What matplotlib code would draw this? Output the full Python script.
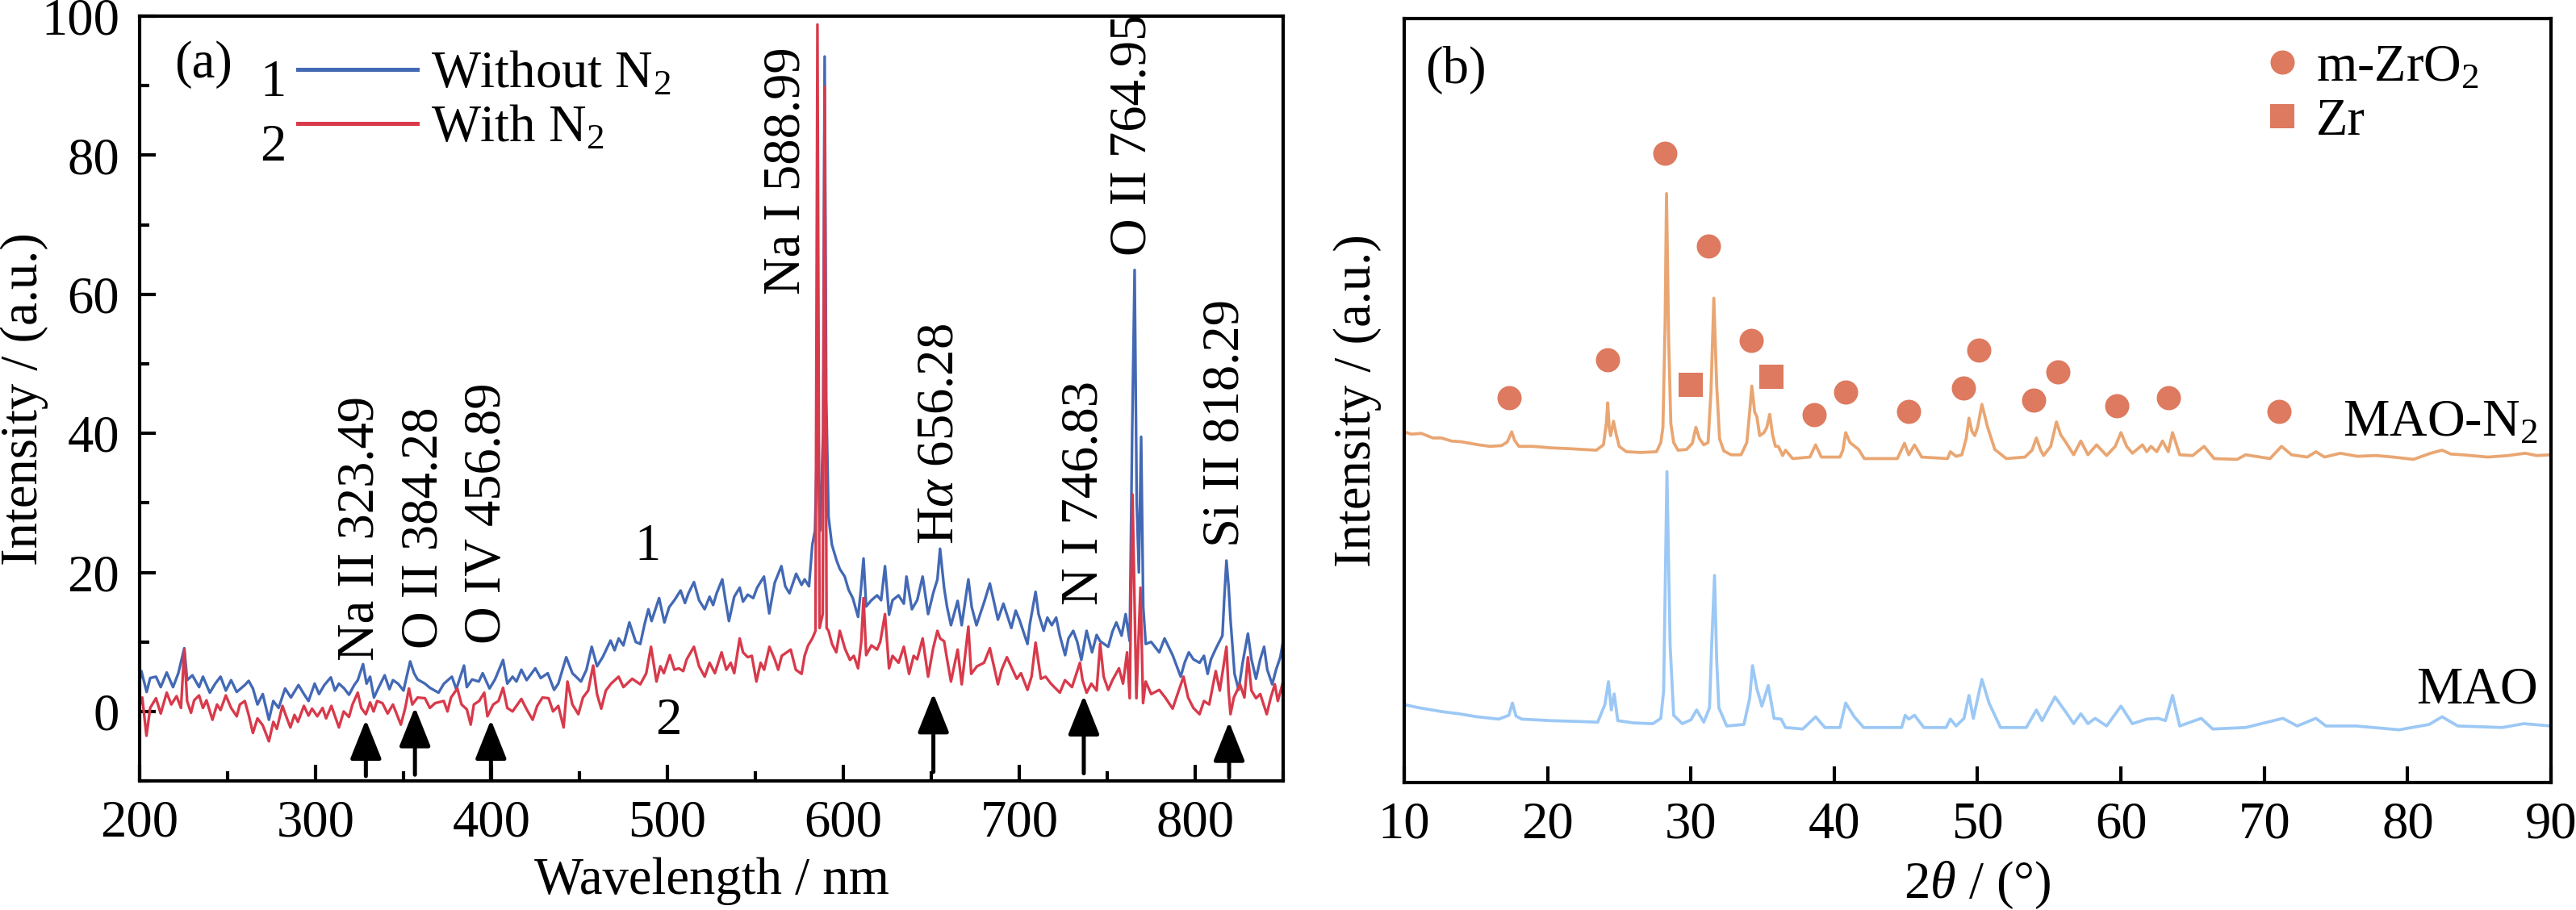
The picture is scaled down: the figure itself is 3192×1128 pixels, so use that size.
import matplotlib
matplotlib.use("Agg")
import matplotlib.pyplot as plt
from matplotlib.lines import Line2D
from matplotlib.ticker import MultipleLocator, NullLocator

plt.rcParams["font.family"] = ["Liberation Serif", "DejaVu Serif"]
plt.rcParams["mathtext.fontset"] = "custom"
plt.rcParams["mathtext.rm"] = "Liberation Serif"
plt.rcParams["mathtext.it"] = "Liberation Serif:italic"
plt.rcParams["font.size"] = 15.5

# %%
## (a) emission spectra
wl_1 = [200, 201, 204, 206, 209.3, 212, 215.4, 219, 222, 225.4, 227, 230, 233.8, 236, 239.9, 243, 246, 249,
        252, 255.2, 259.8, 262, 264.4, 267, 270, 273.5, 276, 279, 282.7, 286, 290.3, 293.4, 296, 299.5, 302,
        305, 308.7, 311, 313.3, 316.3, 319, 322, 324, 327, 329, 331, 333.2, 336, 339.3, 342, 344, 346.9, 350,
        353.8, 356, 358, 362.2, 365, 369.9, 373, 377.5, 380, 384.4, 386, 389, 392.8, 395, 398.9, 402, 406.6,
        409, 412, 414.2, 417, 420, 424.9, 428, 432, 435.6, 438, 442.5, 446, 450.9, 454, 457, 460, 463.2,
        467.7, 470, 472.3, 475, 478.4, 482, 484.6, 487, 489.2, 491, 495.3, 498.3, 501, 504, 507.5, 510, 512,
        515.1, 518, 521.2, 524, 526, 528, 531.2, 533, 535, 538, 541.1, 543, 545.7, 548.8, 551, 554.9, 557.9,
        561, 564.8, 567, 569.4, 573.2, 576.3, 578, 580.5, 582.4, 583.9, 585.2, 586.8, 588.5, 589.4, 590.3,
        591.6, 593.5, 596.2, 598, 600.8, 603, 605.4, 608.4, 610, 611.5, 613, 616, 619.2, 621.5, 623.7, 626,
        628, 631.4, 634.4, 635.9, 639, 642, 645.1, 648.2, 651.2, 653.5, 655, 657.3, 659, 661.2, 665, 667.3,
        671.1, 673, 675.7, 680.3, 683.3, 687.9, 691, 695.5, 698, 700.1, 704.7, 706, 709.3, 711, 713.9, 716,
        718.5, 721, 723.1, 726.1, 728, 730.7, 733, 735.3, 738.3, 741.4, 744, 746, 750.6, 753, 755.2, 758.2,
        760.5, 762.8, 764.2, 765.6, 766.8, 768, 769.3, 770.5, 771.9, 775, 779.6, 782.6, 787.2, 791.8, 794,
        796.4, 799, 802.5, 805, 807.1, 809, 811.7, 815.5, 816.5, 817.8, 819, 820.1, 822.4, 824.7, 827, 830,
        832, 834.6, 837, 839.2, 841, 843.8, 846, 848.4, 850]
int_1 = [4.3, 5.8, 2.8, 4.8, 5.0, 3.5, 5.6, 3.5, 5.5, 9.1, 4.5, 5.2, 3.5, 5.0, 2.7, 4.0, 5.0, 3.0,
         4.5, 2.8, 3.8, 4.4, 3.3, 1.0, 2.5, -1.2, 1.5, 0.5, 3.3, 2.0, 3.8, 2.5, 1.5, 4.0, 2.5,
         3.8, 4.9, 3.0, 4.0, 3.3, 2.4, 3.8, 4.5, 6.8, 4.0, 5.0, 2.0, 3.5, 5.2, 3.2, 4.5, 4.0, 3.0,
         7.2, 5.5, 4.6, 4.0, 3.4, 2.7, 4.0, 5.0, 3.2, 6.6, 3.5, 4.6, 4.3, 5.5, 3.3, 4.6, 7.4,
         4.0, 5.0, 4.3, 6.0, 4.5, 6.2, 4.8, 5.5, 3.1, 4.0, 7.8, 5.5, 4.3, 6.0, 9.3, 6.5, 7.8,
         10.2, 8.8, 10.5, 9.5, 12.8, 10.0, 9.7, 12.5, 14.7, 13.0, 16.3, 12.8, 15.0, 16.0, 17.4, 15.6, 17.0,
         18.6, 16.0, 14.7, 16.5, 15.3, 17.0, 19.0, 16.0, 13.0, 16.5, 17.8, 15.8, 16.8, 16.3, 17.8, 19.4, 14.1,
         18.5, 20.9, 18.0, 17.0, 19.8, 18.2, 19.0, 18.0, 24.0, 26.0, 40.0, 26.0, 40.0, 94.2, 45.0,
         28.0, 24.0, 21.7, 20.5, 19.4, 17.5, 16.3, 13.6, 17.5, 22.0, 15.1, 16.0, 16.7, 16.0, 20.9, 13.9,
         16.0, 16.7, 15.5, 19.4, 14.7, 16.0, 19.4, 14.0, 17.1, 19.0, 23.4, 17.8, 15.0, 12.4, 15.9, 12.4,
         19.0, 15.0, 12.4, 15.9, 18.4, 13.2, 15.5, 12.0, 14.5, 13.2, 9.7, 12.5, 17.2, 14.0, 11.6, 13.5,
         12.4, 13.5, 10.9, 8.1, 10.5, 11.6, 10.0, 7.4, 11.6, 8.5, 11.0, 10.1, 9.3, 11.5, 12.8, 10.9,
         14.0, 10.1, 40.0, 63.5, 30.0, 20.0, 39.5, 15.0, 9.7, 10.0, 8.5, 10.5, 8.1, 5.0, 7.0,
         8.5, 7.5, 7.0, 8.0, 5.4, 7.5, 9.0, 10.9, 16.0, 21.7, 18.0, 13.2, 5.4, 3.1, 7.0, 11.2,
         7.5, 4.7, 7.5, 9.3, 6.0, 3.9, 6.0, 7.8, 10.1]

wl_2 = [200, 201.5, 203.9, 206, 209.3, 212, 215.4, 218, 221, 223.5, 225.4, 227, 229.2, 231, 233.8, 236, 238,
        241.4, 244, 246, 249, 252, 255.2, 257, 259.8, 262, 264.4, 267, 270, 273.5, 276, 278, 281.2, 283,
        285.7, 288, 290, 293.4, 296, 298, 301, 304, 306, 309, 313.3, 316, 319, 321, 324, 326, 328.6, 331,
        333, 335, 338, 341, 344, 348.5, 351, 353.1, 355, 358, 362.2, 365, 368, 372.9, 375, 377, 380.6, 383,
        386, 388.2, 390, 393, 395.9, 397.7, 401, 404, 406.6, 409, 412, 414.2, 417, 420, 423.4, 426, 429,
        432.5, 435, 438, 441, 443.2, 446, 449.4, 452, 455, 457.8, 460, 462.4, 465, 468, 472.3, 475, 480,
        484.6, 488, 490.7, 493.8, 496, 498, 501.4, 504, 506.5, 509, 511, 515.1, 518, 521.2, 524, 527, 530.8,
        533.5, 536, 538, 541.1, 543, 545.7, 548, 550.6, 553, 555, 558, 561, 563, 565, 570.1, 573, 576.3,
        578, 580, 582.4, 584.2, 585.3, 586.5, 588.3, 589.4, 590.5, 591.6, 593.6, 596, 598, 601, 603.8, 606,
        608.4, 610.2, 611.5, 613, 616, 619.2, 621, 623.7, 626, 628, 631.4, 634.4, 637.4, 640, 642, 645.1,
        648.2, 651, 653.5, 655, 657.3, 659, 661.2, 665, 667.3, 669, 671.1, 672.7, 676, 680, 683.3, 687.9,
        690, 693, 698.6, 701, 704.7, 707, 709.3, 712.3, 715, 718, 723.1, 726, 730, 734.5, 736, 738.3, 741,
        744, 746, 748, 750.6, 753, 756.7, 759, 761.3, 762.8, 764.4, 766.6, 768.9, 770.4, 771.9, 775, 779.6,
        783, 787.2, 790, 793.4, 796, 799, 802.5, 805, 808, 811.7, 814, 817.8, 819, 820.1, 822, 825.5, 828,
        830, 832, 834.6, 837, 840.7, 843, 845.3, 847, 850]
int_2 = [0.8, 2.0, -3.5, 0.5, 1.9, -0.3, 2.7, 1.0, 2.2, 0.5, 8.9, 1.5, -0.2, 1.6, 2.3, 0.5, 1.6,
         -1.2, 1.0, 0.2, 2.3, 0.5, -0.7, 1.0, 1.5, -0.5, -3.1, -1.0, -2.0, -4.3, -1.5, -2.5, 0.8, -0.5,
         -2.3, -0.5, -1.5, 0.8, -0.6, 0.4, -0.7, 0.5, -1.0, 0.8, -2.3, 0.0, -0.8, 1.0, 2.7, 0.5, -0.4, 1.3,
         0.0, 1.5, 1.2, -0.3, 1.0, -1.9, 0.5, 3.3, 1.0, 2.0, 1.9, 0.5, 1.2, 1.5, 0.0, 2.0, 3.3, 1.0,
         0.3, -1.9, 1.0, 1.5, 2.7, -0.7, 1.0, 1.5, 3.4, 0.5, 0.0, 0.8, 1.8, 0.3, -1.2, 0.8, 2.0,
         1.9, 0.0, 0.8, -2.3, 4.3, 1.0, -0.4, 2.0, 3.0, 6.6, 2.5, 0.4, 3.0, 4.0, 5.0, 3.5, 4.7,
         3.9, 5.5, 9.3, 4.3, 6.5, 5.5, 8.1, 6.0, 6.2, 5.8, 7.5, 9.3, 6.5, 5.0, 7.0, 5.5, 8.5,
         6.0, 7.0, 5.5, 10.5, 8.5, 7.8, 8.0, 4.3, 7.0, 6.0, 9.3, 7.5, 6.0, 8.0, 8.9, 6.0, 5.4,
         8.0, 9.5, 10.5, 11.6, 98.8, 12.0, 14.0, 89.8, 12.0, 11.6, 9.7, 8.5, 11.6, 9.0, 7.4, 8.0,
         6.2, 10.0, 16.3, 8.1, 9.5, 8.9, 10.0, 14.0, 6.2, 8.0, 7.0, 9.3, 5.4, 8.0, 7.5, 10.5,
         5.0, 9.0, 11.6, 10.5, 10.1, 7.5, 4.3, 8.9, 3.9, 7.5, 12.2, 5.4, 6.5, 7.0, 9.1, 3.9,
         6.0, 7.8, 4.7, 5.5, 3.1, 5.0, 9.9, 4.7, 5.0, 4.0, 2.7, 4.5, 3.5, 7.0, 4.5, 2.7, 4.0,
         3.0, 9.7, 5.0, 3.1, 4.5, 6.2, 4.0, 8.5, 1.9, 31.2, 1.9, 17.8, 1.2, 4.3, 2.5, 3.1,
         2.0, 0.4, 2.5, 5.0, 2.0, 0.5, -0.4, 1.5, 1.0, 5.8, 3.0, 9.3, 3.0, -0.4, 2.0, 3.9, 2.0,
         7.8, 3.0, 1.9, 2.5, -0.4, 2.0, 3.9, 1.5, 4.3]

line_labels = ["Na II 323.49", "O II 384.28", "O IV 456.89", "Na I 588.99",
               r"H$\alpha$ 656.28", "N I 746.83", "O II 764.95", "Si II 818.29"]
line_label_x = [325.7, 362, 397.8, 568, 655, 737, 764.7, 817.5]
line_label_y = [7.3, 9.0, 9.7, 60, 24, 15.3, 65.5, 23.7]

arrow_x = [328.6, 356.5, 399.7, 651.2, 736.7, 819.3]
arrow_tip = [-1.2, 0.6, -1.2, 2.6, 2.3, -1.5]
arrow_base = [-9.3, -9.1, -9.7, -8.7, -8.9, -9.5]

# %%
## (b) XRD patterns
theta_n2 = [10.0, 10.5, 11.2, 12.0, 12.6, 13.3, 14.0, 15.2, 16.0, 16.8, 17.2, 17.5, 17.7, 18.0, 19.0, 20.3,
            21.5, 22.5, 23.4, 23.9, 24.1, 24.2, 24.3, 24.4, 24.6, 24.8, 25.0, 25.5, 26.5, 27.6, 27.9, 28.05,
            28.2, 28.3, 28.45, 28.6, 28.8, 29.1, 29.7, 30.1, 30.35, 30.6, 30.9, 31.2, 31.4, 31.6, 31.8, 32.0,
            32.3, 32.8, 33.5, 33.9, 34.1, 34.25, 34.45, 34.6, 34.8, 35.1, 35.3, 35.5, 35.7, 35.9, 36.1, 36.4,
            36.6, 37.1, 38.3, 38.7, 39.1, 40.4, 40.6, 40.8, 41.1, 41.3, 41.7, 42.1, 44.4, 44.9, 45.2, 45.6,
            46.1, 47.9, 48.1, 48.5, 48.9, 49.2, 49.4, 49.6, 49.8, 50.0, 50.3, 50.7, 51.2, 52.0, 53.3, 53.8,
            54.1, 54.4, 54.6, 55.1, 55.5, 55.8, 56.1, 56.7, 57.2, 57.7, 58.3, 59.0, 59.6, 60.0, 60.4, 60.8,
            61.5, 61.8, 62.1, 62.5, 62.9, 63.3, 63.6, 64.1, 65.0, 65.8, 66.5, 68.1, 68.7, 70.4, 71.2, 71.9,
            73.0, 73.6, 74.2, 75.3, 76.5, 77.8, 79.0, 80.4, 81.6, 82.4, 83.0, 83.8, 85.6, 87.0, 88.2, 89.0,
            90.0]
xrd_n2 = [45.9, 45.6, 45.7, 45.1, 45.1, 44.7, 44.6, 44.2, 44.0, 44.1, 44.6, 45.9, 44.8, 44.0, 44.0, 43.8,
          43.7, 43.6, 43.5, 44.2, 47.0, 49.7, 46.5, 45.4, 47.3, 45.5, 44.0, 43.3, 43.2, 43.3, 44.5, 46.5,
          60.0, 77.1, 58.0, 47.0, 44.5, 43.5, 43.6, 44.4, 46.5, 45.0, 44.2, 44.5, 51.1, 63.4, 52.0, 45.0,
          43.4, 42.9, 42.9, 44.5, 48.5, 51.9, 48.5, 47.9, 45.4, 45.8, 46.5, 48.2, 45.5, 44.0, 44.0, 42.8,
          43.5, 42.4, 42.6, 44.2, 42.6, 42.6, 43.5, 45.8, 44.5, 44.2, 43.6, 42.4, 42.4, 44.4, 42.9, 44.2,
          42.6, 42.4, 43.3, 42.7, 42.9, 45.0, 47.7, 46.0, 45.4, 46.5, 49.5, 46.5, 43.6, 42.4, 42.6, 43.5,
          45.1, 43.5, 42.8, 44.0, 47.2, 45.5, 44.7, 42.9, 44.7, 42.9, 44.2, 42.8, 44.0, 45.8, 44.0, 43.1,
          44.2, 43.3, 44.0, 43.3, 44.7, 43.3, 45.8, 42.9, 42.8, 44.0, 42.4, 42.3, 42.9, 42.4, 44.0, 42.9,
          42.6, 43.3, 42.6, 43.1, 42.7, 42.8, 42.6, 42.3, 43.1, 43.5, 43.0, 42.9, 42.6, 42.8, 43.1, 42.8,
          42.9]

theta_mao = [10.0, 11.0, 12.55, 13.8, 15.1, 16.6, 17.3, 17.55, 17.8, 18.2, 20.2, 22.0, 23.5, 24.0, 24.25,
             24.45, 24.65, 24.9, 26.0, 27.35, 27.9, 28.1, 28.33, 28.55, 28.8, 29.4, 30.0, 30.4, 30.9, 31.3,
             31.45, 31.65, 31.8, 31.95, 32.5, 33.7, 34.1, 34.3, 34.6, 34.95, 35.4, 35.8, 36.3, 36.6, 37.8,
             38.7, 39.35, 40.4, 40.8, 41.4, 42.05, 44.7, 44.95, 45.2, 45.6, 46.25, 47.8, 48.1, 48.5, 49.05,
             49.4, 49.7, 50.3, 50.8, 51.6, 53.4, 54.1, 54.5, 55.4, 56.2, 56.7, 57.2, 57.7, 58.2, 59.0, 60.0,
             60.8, 61.8, 62.6, 63.1, 63.6, 64.1, 65.6, 66.4, 68.7, 71.3, 72.3, 73.6, 74.3, 76.4, 79.4, 81.5,
             82.4, 83.5, 86.6, 88.1, 90.0]
xrd_mao = [10.2, 9.8, 9.3, 9.0, 8.6, 8.3, 8.8, 10.4, 8.7, 8.3, 8.1, 8.0, 7.9, 10.2, 13.2,
           9.5, 11.6, 8.1, 7.8, 7.7, 8.4, 12.0, 40.7, 18.0, 8.8, 7.7, 8.2, 9.5, 7.9, 9.8,
           18.0, 27.1, 16.0, 9.8, 7.4, 7.6, 11.0, 15.3, 12.3, 10.0, 12.7, 8.4, 8.3, 7.2, 7.0,
           8.6, 7.2, 7.2, 10.4, 8.6, 7.2, 7.2, 8.8, 8.3, 8.8, 7.2, 7.2, 8.3, 7.4, 8.4,
           11.4, 8.4, 13.5, 10.4, 7.2, 7.2, 9.5, 8.1, 11.2, 9.1, 7.7, 9.0, 7.7, 8.4, 7.4, 10.0,
           7.7, 8.3, 8.4, 8.1, 11.4, 7.4, 8.4, 7.0, 7.2, 8.4, 7.4, 8.4, 7.4, 7.4, 6.9, 7.6,
           8.6, 7.4, 7.2, 7.7, 7.4]

zro2_theta = [17.3, 24.2, 28.2, 31.2, 34.2, 38.6, 40.8, 45.2, 49.0, 50.1, 53.9, 55.6, 59.7, 63.3, 71.0]
zro2_y = [50.4, 55.3, 82.4, 70.2, 57.9, 48.2, 51.1, 48.6, 51.6, 56.6, 50.0, 53.8, 49.3, 50.4, 48.6]
zr_theta = [30.0, 35.6]
zr_y = [52.1, 53.1]

C_BLUE = "#4369B5"
C_RED = "#D83A4B"
C_ORANGE = "#E9A672"
C_LIGHTBLUE = "#9CC8F5"
C_MARK = "#DD7A5F"

# %%
fig = plt.figure(figsize=(10.64, 3.76), dpi=300)
ax1 = fig.add_axes([0.0542, 0.1418, 0.4439, 0.8404])
ax2 = fig.add_axes([0.5451, 0.1401, 0.4452, 0.8395])

for ax in (ax1, ax2):
    for sp in ax.spines.values():
        sp.set_linewidth(1.0)
    ax.tick_params(which="both", direction="in", width=1.0, top=False, right=False)
    ax.tick_params(which="major", length=4.8)
    ax.tick_params(which="minor", length=2.8)
    ax.tick_params(axis="x", pad=5.5)
    ax.tick_params(axis="y", pad=6.0)

## Panel (a)
ax1.plot(wl_1, int_1, color=C_BLUE, lw=0.8, label="Without N$_2$")
ax1.plot(wl_2, int_2, color=C_RED, lw=0.8, label="With N$_2$")
ax1.set_xlim(200, 850)
ax1.set_ylim(-10, 100)
ax1.xaxis.set_major_locator(MultipleLocator(100))
ax1.xaxis.set_minor_locator(MultipleLocator(50))
ax1.yaxis.set_major_locator(MultipleLocator(20))
ax1.yaxis.set_minor_locator(MultipleLocator(10))
ax1.set_xlabel("Wavelength / nm")
ax1.set_ylabel("Intensity / (a.u.)")
ax1.xaxis.set_label_coords(0.5, -0.10)
ax1.yaxis.set_label_coords(-0.080, 0.5)

for lab, x, y in zip(line_labels, line_label_x, line_label_y):
    ax1.text(x, y, lab, rotation=90, ha="center", va="bottom")
for x, tip, base in zip(arrow_x, arrow_tip, arrow_base):
    ax1.annotate("", xy=(x, tip), xytext=(x, base),
                 arrowprops=dict(arrowstyle="-|>,head_length=0.5,head_width=0.2",
                                 color="black", lw=1.2, mutation_scale=20,
                                 shrinkA=0, shrinkB=0))
ax1.text(489, 23.6, "1", ha="center", va="center")
ax1.text(500.5, -1.4, "2", ha="center", va="center")
ax1.text(0.056, 0.937, "(a)", transform=ax1.transAxes, ha="center", va="center")

leg = ax1.legend(loc="upper left", bbox_to_anchor=(0.138, 0.955), frameon=False,
                 handlelength=2.3, handletextpad=0.26, labelspacing=0.12,
                 borderpad=0, borderaxespad=0)
for h in leg.get_lines():
    h.set_linewidth(1.2)
ax1.text(0.117, 0.912, "1", transform=ax1.transAxes, ha="center", va="center")
ax1.text(0.117, 0.828, "2", transform=ax1.transAxes, ha="center", va="center")

## Panel (b)
ax2.plot(theta_n2, xrd_n2, color=C_ORANGE, lw=0.9)
ax2.plot(theta_mao, xrd_mao, color=C_LIGHTBLUE, lw=0.9)
ax2.plot(zro2_theta, zro2_y, "o", color=C_MARK, ms=7.2, mew=0, ls="none")
ax2.plot(zr_theta, zr_y, "s", color=C_MARK, ms=7.4, mew=0, ls="none")
ax2.set_xlim(10, 90)
ax2.set_ylim(0, 100)
ax2.xaxis.set_major_locator(MultipleLocator(10))
ax2.yaxis.set_major_locator(NullLocator())
ax2.set_xlabel(r"2$\theta$ / (°)")
ax2.set_ylabel("Intensity / (a.u.)")
ax2.xaxis.set_label_coords(0.5, -0.10)
ax2.yaxis.set_label_coords(-0.02, 0.5)
ax2.text(89.1, 45.4, "MAO-N$_2$", ha="right", va="baseline")
ax2.text(89.1, 10.4, "MAO", ha="right", va="baseline")
ax2.text(0.045, 0.932, "(b)", transform=ax2.transAxes, ha="center", va="center")

handles = [Line2D([], [], marker="o", color=C_MARK, ms=7.2, mew=0, ls="none"),
           Line2D([], [], marker="s", color=C_MARK, ms=7.4, mew=0, ls="none")]
ax2.legend(handles, ["m-ZrO$_2$", "Zr"], loc="upper left", bbox_to_anchor=(0.743, 0.967),
           frameon=False, handlelength=1.0, handletextpad=0.15, labelspacing=0.12,
           borderpad=0, borderaxespad=0)

fig.savefig("out.png", dpi=300)
